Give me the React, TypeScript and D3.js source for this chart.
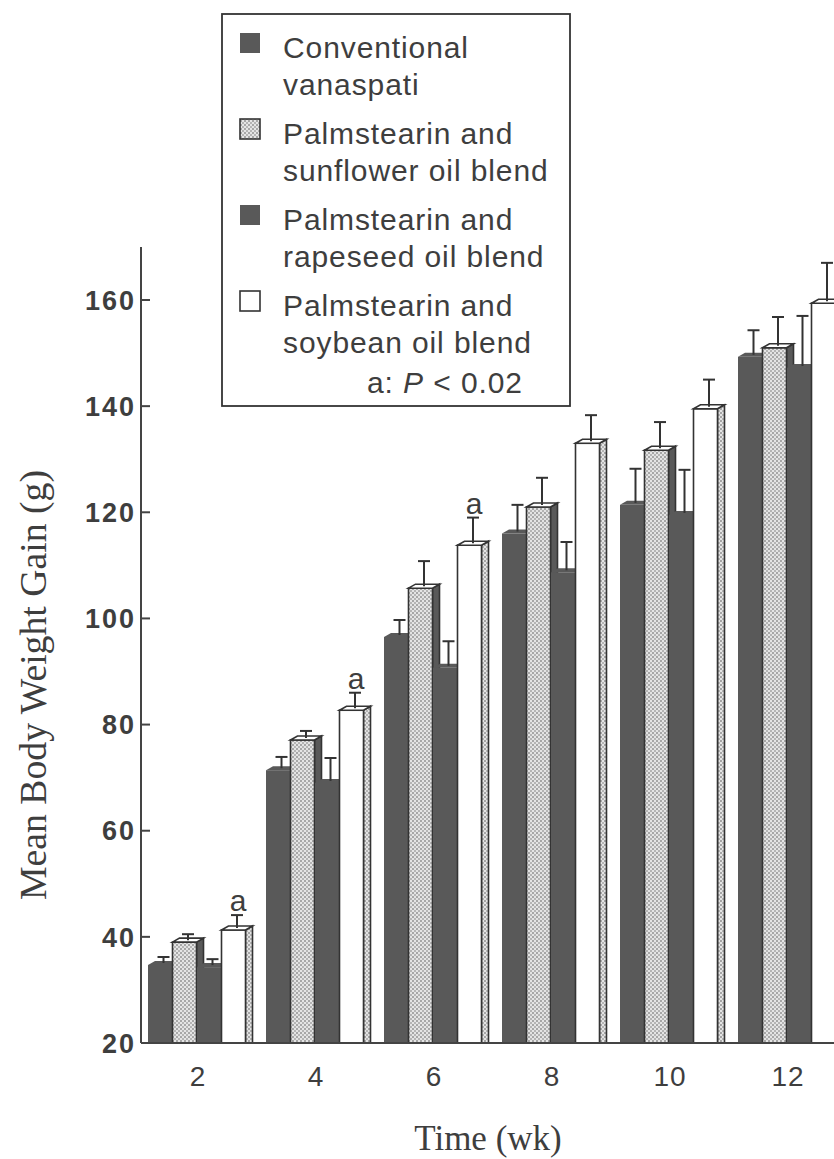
import React from "react";
import * as d3 from "d3";

const weeks = ["2", "4", "6", "8", "10", "12"];
const seriesNames = [
  "Conventional vanaspati",
  "Palmstearin and sunflower oil blend",
  "Palmstearin and rapeseed oil blend",
  "Palmstearin and soybean oil blend",
];
const conventional = [34.7, 71.4, 96.5, 116, 121.4, 149.3];
const conventionalSE = [1.5, 2.5, 3.2, 5.4, 6.8, 5.0];
const sunflower = [39, 77.1, 105.7, 121, 131.7, 151];
const sunflowerSE = [1.5, 1.7, 5.1, 5.5, 5.3, 5.8];
const rapeseed = [34.3, 69, 90.7, 108.7, 119.5, 147.2];
const rapeseedSE = [1.5, 4.7, 5.0, 5.7, 8.5, 9.8];
const soybean = [41.3, 82.7, 113.8, 133, 139.5, 159.4];
const soybeanSE = [2.8, 3.3, 5.2, 5.3, 5.5, 7.6];
const significance = ["a", "a", "a", "", "", ""];
const yTicks = [20, 40, 60, 80, 100, 120, 140, 160];
const legendLines = [
  ["Conventional", "vanaspati"],
  ["Palmstearin and", "sunflower oil blend"],
  ["Palmstearin and", "rapeseed oil blend"],
  ["Palmstearin and", "soybean oil blend"],
];

const values = [conventional, sunflower, rapeseed, soybean];
const errors = [conventionalSE, sunflowerSE, rapeseedSE, soybeanSE];

const DARK = "#595959";
const INK = "#333";
const TEXT = "#3e3e3e";

const styles = [
  { front: DARK, side: DARK, top: DARK, stroke: "none" },
  { front: "url(#stip)", side: DARK, top: "#fff", stroke: INK },
  { front: DARK, side: DARK, top: DARK, stroke: "none" },
  { front: "#fff", side: "url(#stip)", top: "#fff", stroke: INK },
];

export default function App() {
  const W = 834, H = 1159;
  const y = d3.scaleLinear().domain([20, 160]).range([1043, 300]);
  const x0 = d3.scaleBand().domain(weeks).range([140, 848]).padding(0);
  const x1 = d3.scaleBand().domain(seriesNames.map((_, i) => String(i))).range([8, 106]).padding(0);
  const bw = x1.bandwidth() - 0.5;
  const dx = 7, dy = 4;
  const base = y(20);
  const axisTop = y(170);

  const bars: React.ReactNode[] = [];
  const errs: React.ReactNode[] = [];
  weeks.forEach((wk, gi) => {
    values.forEach((arr, si) => {
      const v = arr[gi];
      const xl = (x0(wk) as number) + (x1(String(si)) as number);
      const t = y(v);
      const st = styles[si];
      const sw = st.stroke === "none" ? 0 : 1.6;
      bars.push(
        <g key={`b${gi}-${si}`}>
          <polygon
            points={`${xl + bw},${t} ${xl + bw + dx},${t - dy} ${xl + bw + dx},${base} ${xl + bw},${base}`}
            fill={st.side}
            stroke={st.stroke}
            strokeWidth={sw}
          />
          <rect x={xl} y={t} width={bw} height={base - t} fill={st.front} stroke={st.stroke} strokeWidth={sw} />
          <polygon
            points={`${xl},${t} ${xl + dx},${t - dy} ${xl + bw + dx},${t - dy} ${xl + bw},${t}`}
            fill={st.top}
            stroke={st.stroke}
            strokeWidth={sw}
          />
        </g>
      );
      const ex = xl + bw / 2 + dx / 2;
      const et = y(v + errors[si][gi]);
      errs.push(
        <g key={`e${gi}-${si}`} stroke={INK} strokeWidth={2}>
          <line x1={ex} x2={ex} y1={t - dy / 2} y2={et} />
          <line x1={ex - 6} x2={ex + 6} y1={et} y2={et} />
        </g>
      );
      if (si === 3 && significance[gi]) {
        errs.push(
          <text
            key={`s${gi}`}
            x={ex + 1}
            y={et - 4}
            textAnchor="middle"
            fontFamily="Liberation Sans, Arial, sans-serif"
            fontSize={30}
            fill={TEXT}
          >
            {significance[gi]}
          </text>
        );
      }
    });
  });

  const legendX = 222, legendY = 14;
  const itemY = [0, 86, 172, 258];

  return (
    <svg width={W} height={H} style={{ position: "absolute", left: 0, top: 0, background: "#fff" }}>
      <defs>
        <pattern id="stip" patternUnits="userSpaceOnUse" width={4} height={4}>
          <rect width={4} height={4} fill="#e4e4e4" />
          <circle cx={1} cy={1} r={0.95} fill="#8c8c8c" />
          <circle cx={3} cy={3} r={0.95} fill="#a0a0a0" />
        </pattern>
      </defs>
      {bars}
      {errs}
      {/* axes */}
      <line x1={141} x2={141} y1={axisTop} y2={base} stroke="#444" strokeWidth={2} />
      <line x1={141} x2={W} y1={base} y2={base} stroke="#444" strokeWidth={2} />
      {yTicks.map((t) => (
        <g key={t}>
          {t > 20 && <line x1={141} x2={150} y1={y(t)} y2={y(t)} stroke="#444" strokeWidth={2} />}
          <text
            x={136}
            y={y(t)}
            dy="0.36em"
            textAnchor="end"
            fontFamily="Liberation Sans, Arial, sans-serif"
            fontWeight="bold"
            fontSize={27}
            letterSpacing={2}
            fill={TEXT}
          >
            {t}
          </text>
        </g>
      ))}
      {weeks.map((wk) => (
        <text
          key={wk}
          x={(x0(wk) as number) + x0.bandwidth() / 2 - 1}
          y={1086}
          textAnchor="middle"
          fontFamily="Liberation Sans, Arial, sans-serif"
          fontSize={28}
          letterSpacing={1}
          fill={TEXT}
        >
          {wk}
        </text>
      ))}
      <text
        x={488}
        y={1150}
        textAnchor="middle"
        fontFamily="Liberation Serif, Times New Roman, serif"
        fontSize={35}
        fill={TEXT}
      >
        Time (wk)
      </text>
      <text
        transform={`translate(46,685) rotate(-90)`}
        textAnchor="middle"
        fontFamily="Liberation Serif, Times New Roman, serif"
        fontSize={37}
        textLength={430}
        lengthAdjust="spacingAndGlyphs"
        fill={TEXT}
      >
        Mean Body Weight Gain (g)
      </text>
      {/* legend */}
      <rect x={legendX} y={legendY} width={348} height={392} fill="#fff" stroke={INK} strokeWidth={1.8} />
      {legendLines.map((lines, i) => {
        const st = styles[i];
        const sy = 33 + itemY[i];
        return (
          <g key={i}>
            <rect
              x={240}
              y={sy}
              width={20}
              height={20}
              fill={st.front}
              stroke={st.stroke === "none" ? "none" : INK}
              strokeWidth={1.6}
            />
            {lines.map((ln, j) => (
              <text
                key={j}
                x={283}
                y={58 + itemY[i] + j * 37}
                fontFamily="Liberation Sans, Arial, sans-serif"
                fontSize={30}
                letterSpacing={0.9}
                fill={TEXT}
              >
                {ln}
              </text>
            ))}
          </g>
        );
      })}
      <text x={367} y={393} fontFamily="Liberation Sans, Arial, sans-serif" fontSize={30} letterSpacing={0.9} fill={TEXT}>
        a: <tspan fontStyle="italic">P</tspan> {"< 0.02"}
      </text>
    </svg>
  );
}
